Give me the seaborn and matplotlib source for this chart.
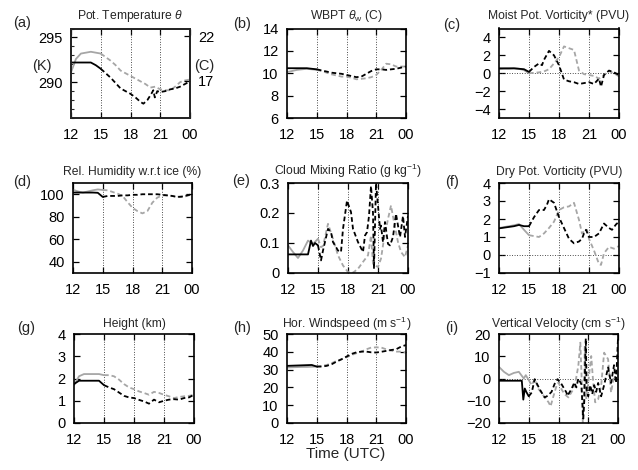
import numpy as np
import matplotlib
matplotlib.use("Agg")
import matplotlib.pyplot as plt
import seaborn as sns

# ---------------- data (time in UTC hours, 24 = 00) ----------------
HALF = [12, 12.5, 13, 13.5, 14, 14.5, 15, 15.5, 16, 16.5, 17, 17.5, 18, 18.5,
        19, 19.5, 20, 20.5, 21, 21.5, 22, 22.5, 23, 23.5, 24]

# (a) potential temperature (K)
a_t_black = [12, 12.5, 13, 13.5, 14, 14.5, 15, 15.5, 16, 16.5, 17, 17.5, 18, 18.5,
             19, 19.3, 19.7, 20.1, 20.3, 20.45, 20.7, 21, 21.5, 22, 22.5, 23, 23.5, 24]
a_black = [292.2, 292.2, 292.2, 292.2, 292.2, 291.9, 291.5, 291.0, 290.5, 289.9, 289.3,
           289.0, 288.7, 288.3, 287.8, 287.6, 288.0, 288.7, 289.1, 288.3, 289.0, 288.9,
           289.0, 289.2, 289.3, 289.5, 289.8, 290.1]
a_t_gray = HALF
a_gray = [291.1, 292.6, 293.2, 293.3, 293.4, 293.3, 293.2, 292.8, 292.4, 291.9, 291.3,
          291.0, 290.7, 290.4, 290.1, 289.8, 289.4, 289.5, 289.2, 289.1, 289.1, 289.5,
          290.0, 290.2, 290.3]

# (b) WBPT (C)
b_t_black = HALF
b_black = [10.45, 10.45, 10.45, 10.45, 10.45, 10.4, 10.35, 10.25, 10.15, 10.05, 10.0,
           9.95, 9.85, 9.75, 9.65, 9.7, 9.95, 10.2, 10.35, 10.35, 10.3, 10.35, 10.4,
           10.5, 10.6]
b_t_gray = HALF
b_gray = [10.1, 10.2, 10.3, 10.35, 10.4, 10.35, 10.3, 10.2, 10.05, 9.9, 9.8, 9.7, 9.7,
          9.6, 9.46, 9.5, 9.55, 9.65, 9.85, 10.3, 10.85, 10.8, 10.6, 10.6, 10.6]

# (c) moist PV (PVU)
c_t_black = [12, 12.5, 13, 13.5, 14, 14.5, 15, 15.5, 16, 16.3, 16.5, 17, 17.5, 18,
             18.5, 19, 19.5, 20, 20.5, 21, 21.5, 22, 22.2, 22.5, 23, 23.5, 24]
c_black = [0.55, 0.55, 0.55, 0.55, 0.5, 0.45, 0.15, 0.7, 1.1, 0.9, 1.5, 2.5, 2.0, 0.9,
           -0.7, -0.9, -1.0, -1.2, -1.1, -1.0, -1.2, -0.6, -1.5, -0.2, 0.3, 0.1, -0.2]
c_t_gray = HALF
c_gray = [0.45, 0.5, 0.5, 0.55, 0.5, 0.35, 0.0, 0.05, 0.1, 0.2, 0.45, 1.1, 1.8, 3.0,
          2.8, 2.6, 0.3, -0.1, -0.2, -0.3, -0.6, -0.2, 0.25, 0.0, -0.35]

# (d) relative humidity w.r.t. ice (%)
d_t_black = HALF
d_black = [101.5, 101.5, 101.5, 101.5, 101.5, 101.3, 97.6, 98.5, 98.5, 98.5, 99, 99,
           99.5, 99.5, 100, 100, 100, 100, 99.5, 99, 98.5, 97.5, 98, 99, 100]
d_t_gray = HALF
d_gray = [104, 102.5, 101.5, 102.5, 103.5, 104.3, 103.8, 103.5, 102, 100.5, 98.5, 93,
          88, 85, 83, 85, 92.5, 97, 99, 99, 98.5, 98, 97.5, 98.5, 100]

# (e) cloud mixing ratio (g/kg)
e_t_black = [12, 13, 14, 14.3, 14.5, 14.7, 15, 15.3, 15.5, 16, 16.3, 16.5, 17, 17.3,
             17.5, 17.9, 18.3, 18.5, 19, 19.5, 19.7, 19.9, 20.1, 20.3, 20.5, 20.6,
             20.8, 21, 21.2, 21.3, 21.5, 21.7, 22, 22.2, 22.5, 22.8, 23, 23.2, 23.5,
             23.7, 24]
e_black = [0.062, 0.062, 0.062, 0.108, 0.09, 0.10, 0.092, 0.042, 0.075, 0.147, 0.136,
           0.103, 0.075, 0.07, 0.147, 0.241, 0.203, 0.147, 0.103, 0.07, 0.125, 0.136,
           0.19, 0.29, 0.2, 0.014, 0.3, 0.225, 0.147, 0.158, 0.103, 0.17, 0.097, 0.092,
           0.12, 0.197, 0.158, 0.12, 0.19, 0.12, 0.19]
e_t_gray = [12, 12.5, 13, 13.5, 14, 14.5, 15, 15.3, 15.5, 16, 16.5, 17, 17.5, 18, 18.5,
            19, 19.5, 20, 20.3, 20.5, 20.7, 21, 21.3, 21.6, 22, 22.3, 22.6, 23, 23.3,
            23.7, 24]
e_gray = [0.092, 0.07, 0.05, 0.075, 0.108, 0.097, 0.114, 0.086, 0.09, 0.164, 0.114,
          0.059, 0.025, 0.003, 0.001, 0.014, 0.037, 0.059, 0.125, 0.031, 0.025, 0.02,
          0.048, 0.114, 0.18, 0.225, 0.17, 0.103, 0.07, 0.053, 0.092]

# (f) dry PV (PVU)
f_t_black = [12, 12.5, 13, 13.5, 14, 14.5, 15, 15.5, 16, 16.5, 16.8, 17, 17.5, 18,
             18.5, 19, 19.5, 20, 20.3, 20.5, 20.7, 21, 21.5, 22, 22.5, 23, 23.3, 23.7, 24]
f_black = [1.48, 1.52, 1.56, 1.6, 1.67, 1.6, 1.6, 2.1, 2.5, 2.5, 2.8, 3.1, 2.9, 2.1,
           1.5, 0.9, 0.65, 0.75, 0.9, 1.2, 1.4, 1.0, 1.0, 1.2, 1.75, 1.5, 1.4, 1.7, 1.85]
f_t_gray = [12, 12.5, 13, 13.5, 14, 14.5, 15, 15.5, 16, 16.5, 17, 17.5, 18, 18.5, 19,
            19.5, 20, 20.3, 20.5, 20.8, 21, 21.5, 22, 22.2, 22.5, 23, 23.5, 24]
f_gray = [1.5, 1.55, 1.6, 1.65, 1.72, 1.4, 1.1, 1.05, 1.0, 1.2, 1.5, 1.85, 2.5, 2.65,
          2.7, 2.9, 1.95, 1.2, 1.3, 1.4, 0.9, 0.25, -0.5, -0.55, 0.1, 0.45, 0.35, 0.5]

# (g) height (km)
g_t_black = HALF
g_black = [1.75, 1.9, 1.9, 1.9, 1.9, 1.9, 1.7, 1.6, 1.52, 1.37, 1.22, 1.15, 1.12, 1.04,
           0.97, 0.87, 1.05, 0.93, 1.0, 1.05, 1.07, 1.05, 1.12, 1.15, 1.27]
g_t_gray = HALF
g_gray = [1.7, 2.1, 2.2, 2.2, 2.2, 2.2, 2.15, 2.15, 2.1, 1.95, 1.75, 1.6, 1.52, 1.42,
          1.35, 1.27, 1.4, 1.35, 1.27, 1.2, 1.12, 1.17, 1.2, 1.22, 1.27]

# (h) horizontal windspeed (m/s)
h_t_black = HALF
h_black = [32.1, 32.2, 32.3, 32.4, 32.5, 32.6, 31.7, 31.7, 32.1, 33, 34.5, 35.8, 37.3,
           38.8, 39.7, 40.1, 40.1, 39.7, 39.6, 40.0, 40.5, 41.0, 41.4, 42.9, 43.8]
h_t_gray = HALF
h_gray = [31.2, 31.3, 31.4, 31.5, 31.5, 31.6, 31.7, 32.1, 32.6, 33.6, 34.9, 35.8, 36.9,
          38.2, 39.2, 40.1, 41.4, 42.4, 42.5, 42.4, 41.4, 40.7, 40.1, 40.1, 39.6]

# (i) vertical velocity (cm/s)
i_t_black = [12, 14.3, 14.45, 14.6, 14.75, 15, 15.3, 15.6, 16.1, 16.6, 16.9, 17.3, 17.6,
             17.9, 18.3, 18.8, 18.9, 19.3, 19.6, 19.8, 20.0, 20.3, 20.5, 20.6, 20.75,
             20.85, 21.0, 21.2, 21.4, 21.6, 21.8, 22.0, 22.3, 22.6, 23.0, 23.3, 23.6,
             23.8, 24]
i_black = [-1, -1, -9.5, -4.5, -6, -8, -6.3, -0.3, -4.8, -8.5, -7.8, -6, -2.5, -0.3,
           -2.5, -6.3, -7.8, -4.8, -1.8, -4, 0, -2.5, -18, -10, 18, -5, -8, -3, -7, -3,
           -6, -2, -8, -3, 5, -2, 6, -2, 18]
i_t_gray = [12, 12.5, 13, 13.5, 14, 14.5, 14.7, 15, 15.3, 15.6, 16, 16.5, 17, 17.2,
            17.5, 17.8, 18, 18.3, 18.6, 19, 19.4, 19.7, 20, 20.2, 20.35, 20.45, 20.55,
            20.65, 20.8, 21, 21.3, 21.5, 21.7, 22, 22.3, 22.6, 23, 23.3, 23.6, 24]
i_gray = [5.2, 3, 1.5, 2.5, 3, 0, 1.5, -0.7, -3, -0.3, -4.8, -7.8, -10.7, -12.5, -7.8,
          -3.3, -1.8, -4.8, -7, -8.5, -5.5, -1.8, 5.7, 16.1, -1.8, -19.7, -9.3, 14.6,
          -9.3, -1.8, 10.1, -1.8, -10.7, -9.3, -3.3, 11.6, 8.7, -6.3, 1.2, -1.8]

x_ticks = [12, 15, 18, 21, 24]
x_labels = ["12", "15", "18", "21", "00"]

titles = {
    "a": r"Pot. Temperature $\theta$",
    "b": r"WBPT $\theta_{\rm w}$ (C)",
    "c": "Moist Pot. Vorticity* (PVU)",
    "d": "Rel. Humidity w.r.t ice (%)",
    "e": r"Cloud Mixing Ratio (g kg$^{-1}$)",
    "f": "Dry Pot. Vorticity (PVU)",
    "g": "Height (km)",
    "h": r"Hor. Windspeed (m s$^{-1}$)",
    "i": r"Vertical Velocity (cm s$^{-1}$)",
}

# ---------------- style ----------------
sns.set_theme(style="ticks")
plt.rcParams["font.family"] = ["Liberation Sans", "DejaVu Sans"]
plt.rcParams["mathtext.fontset"] = "custom"
plt.rcParams["mathtext.rm"] = "Liberation Sans"
plt.rcParams["mathtext.it"] = "Liberation Sans:italic"
plt.rcParams["mathtext.bf"] = "Liberation Sans:bold"
plt.rcParams["axes.linewidth"] = 1.2
plt.rcParams["xtick.direction"] = "in"
plt.rcParams["ytick.direction"] = "in"
plt.rcParams["xtick.top"] = True
plt.rcParams["ytick.right"] = True

W, H = 638, 470
fig = plt.figure(figsize=(W / 100, H / 100), dpi=100)


def rect(l, t, r, b):
    return [l / W, 1 - b / H, (r - l) / W, (b - t) / H]


BLACK = "#000000"
GRAY = "#a6a6a6"
DASH = (0, (2.6, 1.6))
DOT = (0, (0.8, 1.8))
TICK_FS = 10.5
TITLE_FS = 8.7


def draw_series(ax, t, v, color, lw):
    t = np.asarray(t, float)
    v = np.asarray(v, float)
    solid = t <= 15
    dashed = t >= 15
    sns.lineplot(x=t[solid], y=v[solid], ax=ax, color=color, lw=lw,
                 legend=False, errorbar=None)
    sns.lineplot(x=t[dashed], y=v[dashed], ax=ax, color=color, lw=lw,
                 linestyle=DASH, legend=False, errorbar=None)


panels = [
    # key, rect px, ylim, yticks, ylabels, zero line, tb, vb, tg, vg
    ("a", (71, 28.5, 190, 118), (286, 296), [290, 295], ["290", "295"], False,
     a_t_black, a_black, a_t_gray, a_gray),
    ("b", (287, 28.5, 406, 118), (6, 14), [6, 8, 10, 12, 14], None, False,
     b_t_black, b_black, b_t_gray, b_gray),
    ("c", (499, 28.5, 619, 118), (-5, 5), [-4, -2, 0, 2, 4], None, True,
     c_t_black, c_black, c_t_gray, c_gray),
    ("d", (73, 183, 192, 273), (30, 110), [40, 60, 80, 100], None, False,
     d_t_black, d_black, d_t_gray, d_gray),
    ("e", (288, 183, 408, 273), (0, 0.3), [0, 0.1, 0.2, 0.3], ["0", "0.1", "0.2", "0.3"],
     False, e_t_black, e_black, e_t_gray, e_gray),
    ("f", (499, 183, 619, 273), (-1, 4), [-1, 0, 1, 2, 3, 4], None, True,
     f_t_black, f_black, f_t_gray, f_gray),
    ("g", (74, 334, 194, 423), (0, 4), [0, 1, 2, 3, 4], None, False,
     g_t_black, g_black, g_t_gray, g_gray),
    ("h", (287, 334, 406, 423), (0, 50), [0, 10, 20, 30, 40, 50], None, False,
     h_t_black, h_black, h_t_gray, h_gray),
    ("i", (499, 334, 618, 423), (-20, 20), [-20, -10, 0, 10, 20], None, True,
     i_t_black, i_black, i_t_gray, i_gray),
]

label_pos = {"a": (13, 23), "b": (233, 24), "c": (443, 25),
             "d": (13, 182), "e": (232, 181), "f": (445, 182),
             "g": (17, 328), "h": (233, 328), "i": (445, 328)}
title_y = {"a": 16, "b": 16, "c": 16.5, "d": 172, "e": 171, "f": 172,
           "g": 324, "h": 324, "i": 324}

for key, (l, t, r, b), ylim, yt, yl, zero, tb, vb, tg, vg in panels:
    ax = fig.add_axes(rect(l, t, r, b))
    for xv in [15, 18, 21]:
        ax.axvline(xv, color="#222222", lw=0.7, ls=DOT, zorder=1)
    if zero:
        ax.axhline(0, color="#222222", lw=0.7, ls=DOT, zorder=1)
    draw_series(ax, tg, vg, GRAY, 1.3)
    draw_series(ax, tb, vb, BLACK, 1.3)
    ax.set_xlim(12, 24)
    ax.set_ylim(*ylim)
    ax.set_xticks(x_ticks)
    ax.set_xticklabels(x_labels)
    ax.set_yticks(yt)
    if yl is not None:
        ax.set_yticklabels(yl)
    ax.set_xlabel("")
    ax.set_ylabel("")
    ax.tick_params(axis="both", which="major", length=4, width=0.9,
                   labelsize=TICK_FS, pad=6, colors="black")
    ax.tick_params(axis="x", which="major", pad=7)
    for s in ax.spines.values():
        s.set_color("black")
        s.set_linewidth(1.2)
    cx = (l + r) / 2
    fig.text(cx / W, 1 - title_y[key] / H, titles[key], ha="center", va="center",
             fontsize=TITLE_FS)
    lx, ly = label_pos[key]
    fig.text(lx / W, 1 - ly / H, f"({key})", ha="left", va="center", fontsize=10.5)

    if key == "a":
        ax.set_yticks(np.arange(286, 297, 1), minor=True)
        ax.tick_params(axis="y", which="minor", length=2, width=0.8, right=False)
        ax.tick_params(axis="y", which="major", right=False)
        ax2 = ax.twinx()
        ax2.set_ylim(ylim[0] - 273.15, ylim[1] - 273.15)
        ax2.set_yticks([17, 22])
        ax2.tick_params(axis="y", direction="in", length=4, width=0.9,
                        labelsize=TICK_FS, pad=6, colors="black")
        ax2.grid(False)
        fig.text(42 / W, 1 - 66 / H, "(K)", ha="center", va="center", fontsize=10.5)
        fig.text(204 / W, 1 - 66 / H, "(C)", ha="center", va="center", fontsize=10.5)

fig.text(346 / W, 1 - 454 / H, "Time (UTC)", ha="center", va="center", fontsize=11)

fig.savefig("out.png", dpi=100)
